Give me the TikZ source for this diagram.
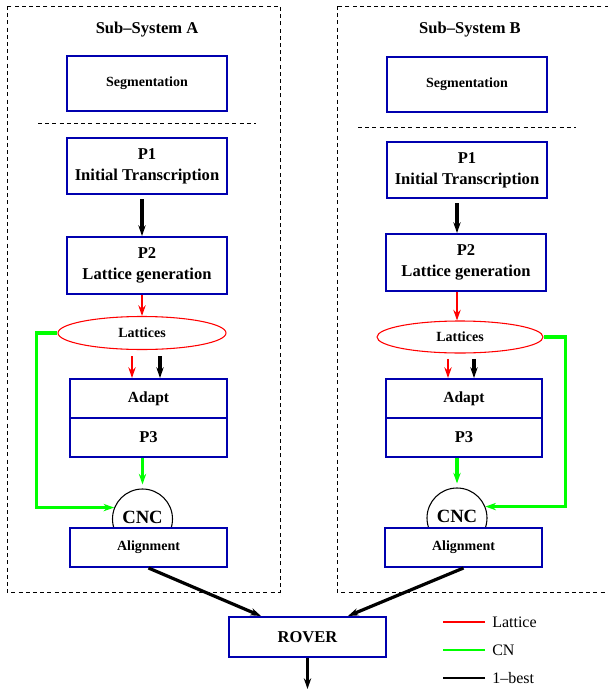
\documentclass[tikz,border=0pt]{standalone}
\usepackage{fontspec}
\setmainfont{Liberation Serif}
\usepackage{xcolor}
\usepackage{tikz}
\usetikzlibrary{arrows.meta,shapes.geometric,calc}
\definecolor{boxblue}{RGB}{0,0,175}
\definecolor{cngreen}{RGB}{0,255,0}

\begin{document}
\begin{tikzpicture}[x=0.75pt, y=-0.75pt, >={Stealth[length=8pt,width=5.5pt]},
  every node/.style={font=\bfseries\fontsize{12.4}{15.5}\selectfont, align=center},
  proc/.style={draw=boxblue, line width=1.5pt, fill=white, inner sep=0pt,
               minimum width=120pt, minimum height=42pt},
  small/.style={font=\bfseries\fontsize{10.5}{12}\selectfont},
  mid/.style={font=\bfseries\fontsize{11.6}{13}\selectfont},
  lat/.style={ellipse, draw=red, line width=0.8pt, fill=white, inner sep=0pt,
              font=\bfseries\fontsize{10.5}{12}\selectfont},
  cnc/.style={circle, draw, line width=0.8pt, fill=white, inner sep=0pt,
              minimum size=45pt, font=\bfseries\fontsize{14}{16}\selectfont},
  frame/.style={line width=0.7pt, dash pattern=on 3pt off 2.4pt},
  best/.style={->, line width=2.4pt},
  lattice/.style={->, draw=red, line width=2pt},
  cn/.style={->, draw=cngreen, line width=2.3pt},
  legline/.style={line width=1.6pt},
  legend/.style={font=\fontsize{12}{14}\selectfont, inner sep=0pt}]
  \def\sw{117.75pt}
  \def\sh{29.25pt}

  \useasboundingbox (0,0) rectangle (607,689);

  % the two sub-systems
  \draw[frame] (7,6) rectangle (280,592);
  \draw[frame] (337,6) rectangle (614,592);
  \node (titleA) at (147,30) {Sub--System A};
  \node (titleB) at (470,30) {Sub--System B};

  % sub-system A
  \node[proc, small, minimum height=41.25pt] (segA) at (147,83.5) {Segmentation};
  \draw[frame] (38,123) -- (256,123);
  \node[proc] (p1A) at (147,166) {P1\\Initial Transcription};
  \node[proc, minimum height=42.75pt] (p2A) at (147,265.5) {P2\\Lattice generation};
  \node[lat, minimum width=126pt, minimum height=24.75pt] (latA) at (142,333) {Lattices};
  \node[proc, mid, minimum width=\sw, minimum height=\sh] (adaptA) at (148.5,398.5) {Adapt};
  \node[proc, minimum width=\sw, minimum height=\sh] (p3A) at (148.5,437.5) {P3};
  \node[cnc] (cncA) at (142.5,519) {\raisebox{3pt}{CNC}};
  \node[proc, small, minimum width=\sw, minimum height=\sh] (alA) at (148.5,547.5) {Alignment};

  \draw[best] ([yshift=-3pt]p1A.south -| latA.north) -- (p2A.north -| latA.north);
  \draw[lattice] (p2A.south -| latA.north) -- (latA.north);
  \draw[lattice] ([xshift=-7.5pt,yshift=-4.5pt]latA.south) -- ([xshift=-7.5pt]latA.south |- adaptA.north);
  \draw[best] ([xshift=13.5pt,yshift=-4.5pt]latA.south) -- ([xshift=13.5pt]latA.south |- adaptA.north);
  \draw[cn] (p3A.south -| cncA.north) -- ([yshift=3pt]cncA.north);
  \draw[cn] (latA.west) -- ++(-21,0) |- (cncA.158);

  % sub-system B
  \node[proc, small, minimum height=41.25pt] (segB) at (467,84.5) {Segmentation};
  \draw[frame] (358,127) -- (576,127);
  \node[proc] (p1B) at (467,170) {P1\\Initial Transcription};
  \node[proc, minimum height=42.75pt] (p2B) at (466,262.5) {P2\\Lattice generation};
  \node[lat, minimum width=124.5pt, minimum height=24pt] (latB) at (460,337) {Lattices};
  \node[proc, mid, minimum width=117pt, minimum height=\sh] (adaptB) at (464,398.5) {Adapt};
  \node[proc, minimum width=117pt, minimum height=\sh] (p3B) at (464,437.5) {P3};
  \node[cnc] (cncB) at (457,518) {\raisebox{3pt}{CNC}};
  \node[proc, small, minimum width=\sw, minimum height=\sh] (alB) at (463.5,547.5) {Alignment};

  \draw[best] ([yshift=-3pt]p1B.south -| cncB.north) -- (p2B.north -| cncB.north);
  \draw[lattice] (p2B.south -| cncB.north) -- (latB.north -| cncB.north);
  \draw[lattice] ([xshift=-9pt,yshift=-4pt]latB.south) -- ([xshift=-9pt]latB.south |- adaptB.north);
  \draw[best] ([xshift=10.5pt,yshift=-4pt]latB.south) -- ([xshift=10.5pt]latB.south |- adaptB.north);
  \draw[cn] (p3B.south -| cncB.north) -- ([yshift=3pt]cncB.north);
  \draw[cn] (latB.east) -- ++(22,0) |- (cncB.22);

  % combination
  \node[proc, minimum width=\sw, minimum height=30pt] (rover) at (307.5,637) {ROVER};
  \coordinate (out) at (307.5,689);
  \draw[best] (alA.south) -- ([xshift=24.75pt]rover.north west);
  \draw[best] (alB.south) -- ([xshift=-29.25pt]rover.north east);
  \draw[best] (rover) -- (out);

  % legend
  \node[legend, anchor=west] (legLat) at (492,622) {Lattice};
  \node[legend, anchor=west] (legCN) at (492,650) {CN};
  \node[legend, anchor=west] (legBest) at (492,678) {1--best};
  \draw[legline, red] ([xshift=-5.25pt]legLat.west) -- ++(-42,0);
  \draw[legline, cngreen] ([xshift=-5.25pt]legCN.west) -- ++(-42,0);
  \draw[legline] ([xshift=-5.25pt]legBest.west) -- ++(-42,0);
\end{tikzpicture}
\end{document}
